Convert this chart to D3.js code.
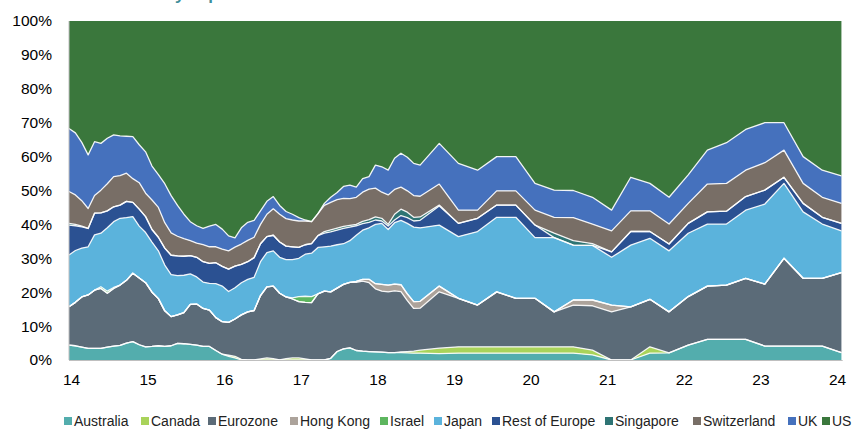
<!DOCTYPE html>
<html>
<head>
<meta charset="utf-8">
<script src="https://cdn.jsdelivr.net/npm/d3@7"></script>
<style>
  body { margin: 0; background: #fff; }
  svg { display: block; }
  text { font-family: "Liberation Sans", Arial, sans-serif; }
</style>
</head>
<body>
<svg id="chart" width="856" height="430"></svg>
<script>
// Observation dates (month-end): monthly to mid-2018, quarterly afterwards
const dates = [
  "2013-12",
  "2014-01","2014-02","2014-03","2014-04","2014-05","2014-06","2014-07","2014-08","2014-09","2014-10","2014-11","2014-12",
  "2015-01","2015-02","2015-03","2015-04","2015-05","2015-06","2015-07","2015-08","2015-09","2015-10","2015-11","2015-12",
  "2016-01","2016-02","2016-03","2016-04","2016-05","2016-06","2016-07","2016-08","2016-09","2016-10","2016-11","2016-12",
  "2017-01","2017-02","2017-03","2017-04","2017-05","2017-06","2017-07","2017-08","2017-09","2017-10","2017-11","2017-12",
  "2018-01","2018-02","2018-03","2018-04","2018-05","2018-06","2018-07","2018-10",
  "2019-01","2019-04","2019-07","2019-10",
  "2020-01","2020-04","2020-07","2020-10",
  "2021-01","2021-04","2021-07","2021-10",
  "2022-01","2022-04","2022-07","2022-10",
  "2023-01","2023-04","2023-07","2023-10",
  "2024-01"
];

// Country weights, % of portfolio
const australia = [4.4,4.2,3.8,3.4,3.4,3.4,3.8,4.1,4.3,5.0,5.4,4.5,3.9,4.0,4.2,4.0,4.2,4.9,4.8,4.6,4.4,4.0,4.0,2.8,1.7,
  1.1,0.6,0,0,0,0,0,0,0,0,0,0,0,0,0,0,
  0.5,2.5,3.3,3.6,2.8,2.6,2.5,2.4,2.3,2.2,2.2,2.2,2.1,2.0,2.0,
  1.9,2.0,2.0,2.0,2.0,2.0,2.0,2.0,1.5,0,0,2.0,2.1,4.4,6.1,6.1,6.1,4.1,4.1,4.1,4.1,2.2];
const canada = [0,0,0,0,0,0,0,0,0,0,0,0,0,0,0,0,0,0,0,0,0,0,0,0,0,
  0.3,0.5,0.2,0,0,0.3,0.6,0.4,0,0.4,0.6,0.6,0.3,0,
  0,0,0,0,0,0,0,0,0,0,0,0,0,
  0.2,0.4,0.6,0.9,
  1.6,1.9,1.9,1.9,1.9,1.9,1.9,1.9,1.4,0,0,1.9,0,0,0,0,0,0,0,0,0,0];
const eurozone = [11.3,12.8,14.8,15.8,17.2,17.7,15.9,17.0,17.8,18.5,
  20.2,19.7,18.9,16.0,13.9,10.5,8.6,8.4,9.2,11.8,
  12.1,11.2,10.7,9.7,9.6,9.7,11.0,13.1,14.2,14.6,
  18.7,21.0,21.4,19.7,18.2,17.4,16.6,16.7,16.9,19.5,
  20.3,19.6,18.7,19.0,19.3,20.1,20.7,20.3,18.6,18.0,
  17.9,18.2,17.8,15.0,12.6,12.4,16.6,14.3,12.3,16.2,
  14.3,14.3,10.3,12.3,13.1,14.2,15.7,14.0,12.1,14.3,
  15.7,16.0,18.0,18.3,25.9,20.0,20.0,23.6];
const hongKong = [0,0,0,0,0,0,0,0,0,0,0,0,0,0,0,0,0,0,0,0,0,0,0,0,0,
  0,0,0,0,0,0,0,0,0,0,0,0,0,0,0,0,0,0,0,0,
  0.3,0.5,1.0,1.5,2.0,2.0,2.0,2.0,2.0,2.0,2.0,
  1.7,0,0,0,0,0,0,1.5,1.7,2.0,
  0,0,0,0,0,0,0,0,0,0,0,0];
const israel = [0,0,0,0,0,0.5,0.6,0.3,
  0,0,0,0,0,0,0,0,0,0,0,0,0,0,0,0,0,0,0,0,0,0,0,0,0,0,0,
  0.3,1.5,1.8,1.8,
  0,0,0,0,0,0,0,0,0,0,0,0,0,0,0,0,0,0,0,0,0,0,0,0,0,0,0,0,0,0,0,0,0,0,0,0,0,0,0];
const japan = [15.3,15.3,14.4,14.2,16.3,15.8,18.7,19.4,19.7,18.5,
  16.7,15.3,14.8,14.8,14.1,13.5,12.4,11.6,11.0,9.0,
  8.0,7.8,7.9,10.0,10.5,9.1,9.2,9.5,9.6,9.8,
  10.0,10.1,10.4,10.6,11.0,11.3,11.3,12.4,12.8,13.7,
  13.1,13.5,12.8,12.0,12.3,13.6,14.5,15.2,17.5,18.0,
  16.4,18.1,19.0,20.8,22.0,21.7,18.0,18.2,21.7,22.0,
  23.9,17.9,21.9,16.2,16.1,14.1,18.2,18.0,18.0,18.7,
  18.3,18.0,20.1,23.6,22.1,19.6,16.0,12.3];
const restOfEurope = [8.8,7.3,6.3,5.4,6.4,6.0,5.0,4.4,3.9,4.8,
  4.2,5.0,4.7,3.7,4.0,5.0,5.7,5.8,5.6,5.4,
  5.8,6.0,5.9,6.2,5.8,6.6,6.4,5.4,5.2,5.8,
  5.3,4.7,4.6,4.5,4.0,3.8,3.2,2.8,2.8,3.5,
  4.0,4.2,4.3,4.5,4.0,2.8,1.9,1.6,1.3,0.7,
  1.0,0.8,1.4,1.7,1.8,2.2,5.6,3.9,3.9,3.6,
  3.6,3.7,0,0,0,1.6,4.0,2.0,2.0,2.9,
  3.6,3.8,4.0,4.1,1.8,2.5,2.0,2.2];
const singapore = [0.5,0.4,0.2,
  0,0,0,0,0,0,0,0,0,0,0,0,0,0,0,0,0,0,0,0,0,0,0,0,0,0,0,0,0,0,0,0,0,0,0,0,0,
  0.5,0.6,0.6,0.6,0.5,0.4,0.7,0.8,0.9,0.8,0.5,1.7,1.9,1.6,1.1,1.0,0.3,
  0,0,0,0,0,
  1.3,1.3,0.5,
  0,0,0,0,0,0,0,0,0,0,0,0,0];
const switzerland = [9.4,8.7,7.5,5.9,5.2,6.7,8.0,8.9,8.7,8.3,
  7.0,7.8,6.9,8.7,8.8,7.5,6.6,5.8,5.2,4.4,
  4.2,5.0,4.9,4.7,5.1,5.4,5.6,6.0,6.3,6.0,
  5.7,6.6,7.8,8.2,8.1,7.9,7.8,7.0,6.5,6.5,
  7.7,8.1,8.4,8.3,7.9,8.0,8.6,9.0,8.5,7.7,
  8.7,7.3,6.5,6.3,6.4,6.1,6.2,3.9,2.4,4.2,
  4.2,4.4,4.7,6.8,5.8,6.2,6.1,6.1,5.9,5.9,
  8.2,8.2,7.8,8.1,8.0,5.9,5.9,5.9];
const uk = [18.6,18.3,17.2,15.8,15.9,13.8,13.4,12.3,11.7,10.9,
  12.4,11.2,12.2,10.0,9.7,11.5,11.0,9.1,7.2,5.6,
  5.1,4.8,6.1,6.6,5.9,4.4,2.7,4.8,5.3,5.0,
  4.0,3.8,3.6,2.6,2.1,1.7,1.0,0.3,0,0,
  0.6,1.5,2.1,3.5,4.0,3.0,4.0,3.7,6.8,7.5,
  7.3,9.2,10.0,9.9,9.5,9.2,12.0,13.8,11.8,10.1,
  10.1,7.9,8.0,8.0,7.9,6.1,9.9,8.1,7.9,8.4,
  10.0,12.0,12.0,11.8,8.1,7.9,8.0,8.1];
const us = [31.7,33.0,35.8,39.5,35.6,36.1,34.6,33.6,33.9,34.0,
  34.1,36.5,38.6,42.8,45.3,48.0,51.5,54.4,57.0,59.2,
  60.4,61.2,60.5,60.0,61.4,63.4,64.0,61.0,59.4,58.8,
  56.0,53.2,51.8,54.4,56.2,57.0,58.0,58.7,59.2,56.8,
  53.8,52.0,50.6,48.8,48.4,49.0,46.5,45.9,42.5,43.0,
  44.0,40.5,39.0,40.2,42.0,42.5,36.1,42.0,44.0,40.0,
  40.0,47.9,49.9,50.0,52.0,55.8,46.1,47.9,52.0,45.4,
  38.1,35.9,32.0,30.0,30.0,40.0,44.0,45.7];

const seriesNames = ["Australia","Canada","Eurozone","Hong Kong","Israel","Japan",
  "Rest of Europe","Singapore","Switzerland","UK","US"];
const seriesValues = [australia, canada, eurozone, hongKong, israel, japan,
  restOfEurope, singapore, switzerland, uk, us];
const seriesColors = ["#53adad","#a9d35a","#5b6b78","#aca39b","#5db65f","#5bb3dc",
  "#2b5192","#2e7474","#786e66","#4571bd","#3a773c"];

const yTickValues = [0,10,20,30,40,50,60,70,80,90,100];
const xTickYears = [2014,2015,2016,2017,2018,2019,2020,2021,2022,2023,2024];
const xTickLabels = ["14","15","16","17","18","19","20","21","22","23","24"];
const chartTitle = "Historical country exposure";

// Decimal year at month end
function toYear(s) {
  const [yy, mm] = s.split("-").map(Number);
  return yy + mm / 12;
}

const rows = dates.map((d, i) => {
  const r = { t: toYear(d) };
  seriesNames.forEach((n, k) => { r[n] = seriesValues[k][i]; });
  return r;
});

const svg = d3.select("#chart");
const plot = { left: 69, right: 842.7, top: 21, bottom: 360 };

const x = d3.scaleLinear().domain([2014, 2024.1]).range([plot.left, plot.right]);
const y = d3.scaleLinear().domain([0, 1]).range([plot.bottom, plot.top]);

const stack = d3.stack().keys(seriesNames).offset(d3.stackOffsetExpand);
const layers = stack(rows);

const area = d3.area()
  .x(d => x(d.data.t))
  .y0(d => y(d[0]))
  .y1(d => y(d[1]));

const line = d3.line()
  .x(d => x(d.data.t))
  .y(d => y(d[1]));

svg.append("g").selectAll("path")
  .data(layers)
  .join("path")
  .attr("d", area)
  .attr("fill", (d, i) => seriesColors[i]);

// White separators along each layer's upper edge
svg.append("g").selectAll("path")
  .data(layers.slice(0, layers.length - 1))
  .join("path")
  .attr("d", line)
  .attr("fill", "none")
  .attr("stroke", "#ffffff")
  .attr("stroke-width", 1.3)
  .attr("stroke-opacity", 0.9)
  .attr("stroke-linejoin", "round");

// Axis lines
svg.append("line")
  .attr("x1", plot.left).attr("x2", plot.left)
  .attr("y1", plot.top).attr("y2", plot.bottom)
  .attr("stroke", "#bfbfbf").attr("stroke-width", 1);
svg.append("line")
  .attr("x1", plot.left).attr("x2", plot.right)
  .attr("y1", plot.bottom + 0.5).attr("y2", plot.bottom + 0.5)
  .attr("stroke", "#bfbfbf").attr("stroke-width", 1);

// Y axis labels
const yAxis = d3.axisLeft(d3.scaleLinear().domain([0, 100]).range([plot.bottom, plot.top]))
  .tickValues(yTickValues)
  .tickSize(0)
  .tickPadding(17)
  .tickFormat(v => v + "%");
svg.append("g")
  .attr("transform", `translate(${plot.left},0)`)
  .call(yAxis)
  .call(g => g.select(".domain").remove())
  .call(g => g.selectAll("text")
    .attr("font-size", 15.5)
    .attr("fill", "#000")
    .style("font-family", '"Liberation Sans", Arial, sans-serif'));

// X axis labels
const xAxis = d3.axisBottom(x)
  .tickValues(xTickYears)
  .tickSize(0)
  .tickPadding(14)
  .tickFormat((v, i) => xTickLabels[i]);
svg.append("g")
  .attr("transform", `translate(2,${plot.bottom})`)
  .call(xAxis)
  .call(g => g.select(".domain").remove())
  .call(g => g.selectAll("text")
    .attr("font-size", 15.5)
    .attr("fill", "#000")
    .style("font-family", '"Liberation Sans", Arial, sans-serif'));

// Title (runs off the top edge)
svg.append("text")
  .attr("x", 40)
  .attr("y", 0)
  .attr("font-size", 17)
  .attr("font-weight", "bold")
  .attr("fill", "#3f8f9b")
  .text(chartTitle);

// Legend
const legendX = [64, 141, 208, 290, 380, 434, 492, 605, 693, 788, 822];
const legend = svg.append("g");
seriesNames.forEach((n, i) => {
  legend.append("rect")
    .attr("x", legendX[i]).attr("y", 417)
    .attr("width", 8).attr("height", 8)
    .attr("fill", seriesColors[i]);
  legend.append("text")
    .attr("x", legendX[i] + 10).attr("y", 426)
    .attr("font-size", 14)
    .attr("fill", "#222")
    .text(n);
});
</script>
</body>
</html>
